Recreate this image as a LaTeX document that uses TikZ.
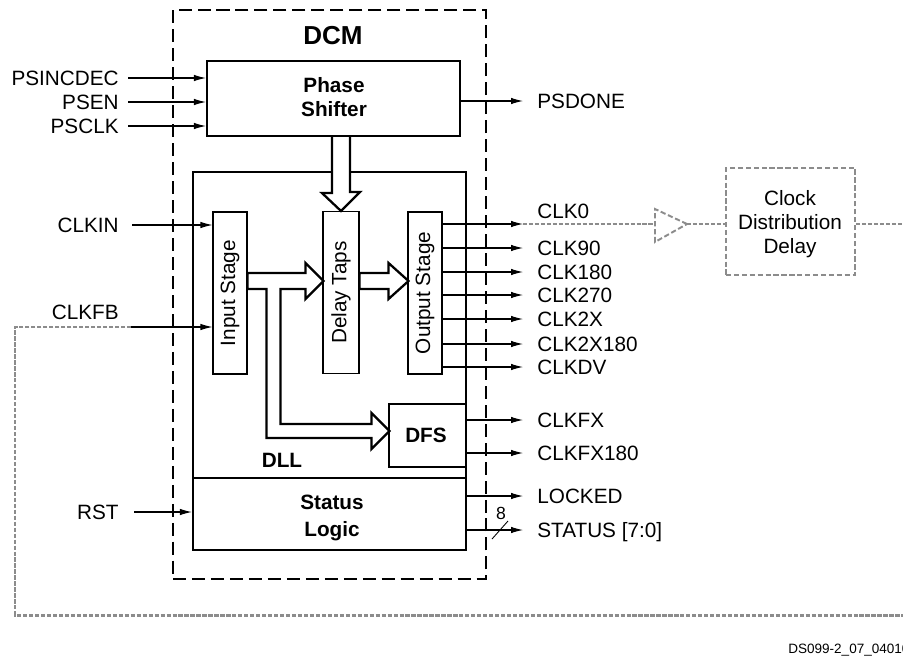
\documentclass[tikz,border=0pt]{standalone}
\usepackage{fontspec}
\setmainfont{Liberation Sans}
\usetikzlibrary{positioning,calc,arrows.meta,fit}
\newcommand{\sz}{\fontsize{11.8}{13.6}\selectfont}
\tikzset{blk/.style={draw,line width=1.2pt,inner sep=0pt}  }
\tikzset{stg/.style={draw,line width=0.6pt,rotate=90,minimum width=3.24cm,minimum height=0.68cm,inner sep=0pt}  }
\tikzset{bld/.style={font=\sz\bfseries}  }
\tikzset{lbl/.style={inner sep=0pt,text height=8.4pt,text depth=0pt}  }
\tikzset{sig/.style={line width=0.6pt,-{Latex[length=0.24cm,width=0.13cm]}}  }
\tikzset{hol/.style={draw,fill=white,line width=1.3pt,line join=miter}  }
\tikzset{fb/.style={draw=black!45,line width=1.7pt,dash pattern=on 2.4pt off 1pt}  }
\tikzset{gbox/.style={draw=black!45,line width=1.1pt,dash pattern=on 3pt off 1.5pt}  }

\begin{document}
\begin{tikzpicture}[x=0.02cm,y=-0.02cm,font=\sz]
	\useasboundingbox (0,0) rectangle (903,656);

	% DCM frame and its blocks
	\node[blk,dash pattern=on 7.4pt off 3.4pt,line width=1.5pt,fit={(173,10) (486,579)}] (dcm) {};
	\node[font=\fontsize{14.8}{16}\selectfont\bfseries] (dcmt) at (333,36) {DCM};
	\node[blk,fit={(207,61) (460,136)}] (ps) {};
	\node[bld,align=center,inner sep=0pt] (pst) at (334,97) {Phase\\Shifter};
	\node[blk,fit={(193,172) (466,550)}] (dll) {};
	\coordinate (divl) at (193,478);
	\coordinate (divr) at (466,478);
	\draw[line width=1.2pt] (divl) -- (divr);
	\node[inner sep=0pt,bld,align=center] (stat) at (332,518) {Status\\[1.5pt]Logic};
	\node[bld] (dllt) at (282,460) {DLL};

	% rotated blocks: north is their left side, south their right side
	\node[stg] (inst) at (230,293) {Input Stage};
	\node[stg,minimum height=0.72cm] (dtap) at (341,292.5) {Delay Taps};
	\node[stg] (outst) at (425,293) {Output Stage};
	\node[blk,fit={(389,404) (466,467)}] (dfs) {};
	\node[bld,inner sep=0pt] (dfst) at (426,435) {DFS};

	% hollow data arrows
	\draw[hol] ($(dtap.east|-ps.south)+(-9,0)$) -- ++(0,56) -- ++(-10,0) -- (dtap.east) -- ++(19,-19) -- ++(-10,0) -- ($(dtap.east|-ps.south)+(9,0)$);
	\coordinate (ha) at ($(inst.south)+(0,-20)$);
	\draw[hol] (ha) -- ++(58,0) -- ++(0,-10) -- ++(18,18) -- ++(-18,18) -- ++(0,-10) -- ++(-25,0) -- ++(0,135) -- ++(91,0) -- ++(0,-11) -- ++(18,18) -- ++(-18,18) -- ++(0,-11) -- ++(-105,0) -- ++(0,-149) -- ++(-19,0) -- cycle;
	\coordinate (hb) at ($(dtap.south)+(0,-19.5)$);
	\draw[hol] (hb) -- ++(29,0) -- ++(0,-10) -- ++(20,18) -- ++(-20,18) -- ++(0,-10) -- ++(-29,0) -- cycle;

	% inputs
	\node[lbl,anchor=east] (psincdec) at (119,78) {PSINCDEC};
	\node[lbl,anchor=east] (psen) at (119,102) {PSEN};
	\node[lbl,anchor=east] (psclk) at (119,126) {PSCLK};
	\node[lbl,anchor=east] (clkin) at (119,225) {CLKIN};
	\node[lbl,anchor=east] (clkfb) at (119,312) {CLKFB};
	\node[lbl,anchor=east] (rst) at (119,512) {RST};
	\coordinate (fbS) at (131,327);

	\draw[sig] ($(psincdec.east)+(9,0)$) -- (ps.west|-psincdec.east);
	\draw[sig] ($(psen.east)+(9,0)$) -- (ps.west|-psen.east);
	\draw[sig] ($(psclk.east)+(9,0)$) -- (ps.west|-psclk.east);
	\draw[sig] ($(clkin.east)+(13,0)$) -- (inst.north|-clkin.east);
	\draw[sig] (fbS) -- (inst.north|-fbS);
	\draw[sig] ($(rst.east)+(15,0)$) -- (dll.west|-rst.east);

	% outputs
	\node[lbl,anchor=west] (psdone) at (537,101) {PSDONE};
	\node[lbl,anchor=west] (clk0) at (537,211) {CLK0};
	\node[lbl,anchor=west] (clk90) at (537,248) {CLK90};
	\node[lbl,anchor=west] (clk180) at (537,272) {CLK180};
	\node[lbl,anchor=west] (clk270) at (537,295) {CLK270};
	\node[lbl,anchor=west] (clk2x) at (537,319) {CLK2X};
	\node[lbl,anchor=west] (clk2x180) at (537,344) {CLK2X180};
	\node[lbl,anchor=west] (clkdv) at (537,367) {CLKDV};
	\node[lbl,anchor=west] (clkfx) at (537,420) {CLKFX};
	\node[lbl,anchor=west] (clkfx180) at (537,453) {CLKFX180};
	\node[lbl,anchor=west] (locked) at (537,496) {LOCKED};
	\node[lbl,anchor=west] (status) at (537,530) {STATUS [7:0]};
	\coordinate (clk0T) at (523,224);

	\draw[sig] (ps.east|-psdone.west) -- ($(psdone.west)+(-14,0)$);
	\draw[sig] (outst.south|-clk0T) -- (clk0T);
	\draw[sig] (outst.south|-clk90.west) -- ($(clk90.west)+(-14,0)$);
	\draw[sig] (outst.south|-clk180.west) -- ($(clk180.west)+(-14,0)$);
	\draw[sig] (outst.south|-clk270.west) -- ($(clk270.west)+(-14,0)$);
	\draw[sig] (outst.south|-clk2x.west) -- ($(clk2x.west)+(-14,0)$);
	\draw[sig] (outst.south|-clk2x180.west) -- ($(clk2x180.west)+(-14,0)$);
	\draw[sig] (outst.south|-clkdv.west) -- ($(clkdv.west)+(-14,0)$);
	\draw[sig] (dfs.east|-clkfx.west) -- ($(clkfx.west)+(-14,0)$);
	\draw[sig] (dfs.east|-clkfx180.west) -- ($(clkfx180.west)+(-14,0)$);
	\draw[sig] (dll.east|-locked.west) -- ($(locked.west)+(-14,0)$);
	\draw[sig] (dll.east|-status.west) -- ($(status.west)+(-14,0)$);

	% bus width mark
	\coordinate (sl1) at (492,539);
	\coordinate (sl2) at (508,521);
	\draw[line width=0.5pt] (sl1) -- (sl2);
	\node[inner sep=0pt,font=\fontsize{10}{12}\selectfont] (bw) at (501,513) {8};

	% clock distribution and feedback (grey)
	\coordinate (bufl) at (655,224);
	\coordinate (bufa) at (655,209);
	\coordinate (bufb) at (655,242);
	\coordinate (buft) at (687,224);
	\node[gbox,inner sep=0pt,fit={(726,168) (855,275)}] (cdd) {};
	\node[align=center,inner sep=0pt] (cddt) at (790,224.5) {Clock\\Distribution\\Delay};
	\coordinate (rt) at (903,224);
	\draw[fb] (clk0T) -- (bufl);
	\draw[gbox] (buft) -- (bufa) -- (bufb) -- cycle;
	\draw[fb] (buft) -- (cdd.west|-buft);
	\draw[fb] (cdd.east|-buft) -- (rt);

	\coordinate (fbA) at (15,327);
	\coordinate (fbB) at (15,615);
	\coordinate (fbC) at (903,615);
	\draw[fb] (fbS) -- (fbA) -- (fbB) -- (fbC);

	\node[anchor=west,inner sep=0pt,font=\fontsize{7.7}{9}\selectfont] (fig) at (788,650) {DS099-2\_07\_04010};
\end{tikzpicture}
\end{document}
